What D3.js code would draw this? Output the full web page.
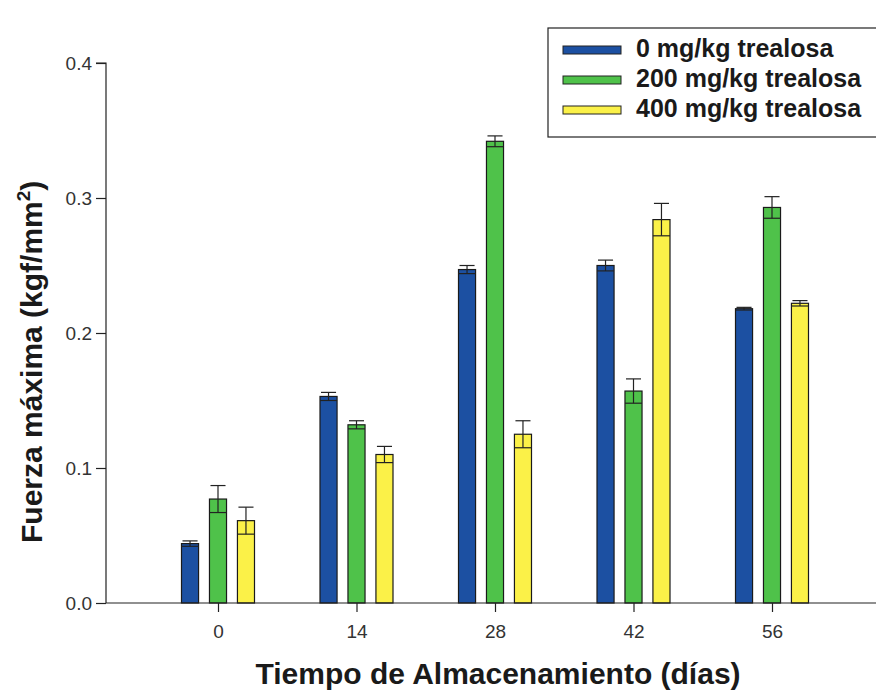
<!DOCTYPE html>
<html>
<head>
<meta charset="utf-8">
<script src="https://cdn.jsdelivr.net/npm/d3@7"></script>
<style>
  body { margin: 0; background: #fff; }
  svg text { font-family: "Liberation Sans", Arial, sans-serif; }
</style>
</head>
<body>
<div id="chart"></div>
<script>
// Data
var days = ["0", "14", "28", "42", "56"];
var seriesNames = ["0 mg/kg trealosa", "200 mg/kg trealosa", "400 mg/kg trealosa"];
var seriesColors = ["#1c50a2", "#4fc24a", "#fbf148"];
var mean0 = [0.044, 0.153, 0.247, 0.250, 0.218];
var err0 = [0.002, 0.003, 0.003, 0.004, 0.001];
var mean200 = [0.077, 0.132, 0.342, 0.157, 0.293];
var err200 = [0.010, 0.003, 0.004, 0.009, 0.008];
var mean400 = [0.061, 0.110, 0.125, 0.284, 0.222];
var err400 = [0.010, 0.006, 0.010, 0.012, 0.002];
var yTicks = [0, 0.1, 0.2, 0.3, 0.4];

var means = [mean0, mean200, mean400];
var errs = [err0, err200, err400];

// Dimensions
var svgWidth = 876;
var svgHeight = 700;
var m = { top: 63, right: 0, bottom: 97, left: 106 };
var cW = svgWidth - m.left - m.right;
var cH = svgHeight - m.top - m.bottom;

var svg = d3.select("#chart").append("svg")
  .attr("width", svgWidth)
  .attr("height", svgHeight);

var g = svg.append("g")
  .attr("transform", `translate(${m.left}, ${m.top})`);

// Scales
var xScale = d3.scalePoint()
  .domain(days)
  .range([112, 666]);

var sub = d3.scaleBand()
  .domain([0, 1, 2])
  .range([-36.5, 36.5])
  .paddingInner(0.39);

var yScale = d3.scaleLinear()
  .domain([0, 0.4])
  .range([cH, 0]);

// Bars
var rows = [];
days.forEach((d, i) => {
  for (var s = 0; s < 3; s++) {
    rows.push({ day: d, s: s, v: means[s][i], e: errs[s][i] });
  }
});

var bw = sub.bandwidth();

g.selectAll("rect.bar")
  .data(rows).enter()
  .append("rect")
  .attr("class", "bar")
  .attr("x", d => xScale(d.day) + sub(d.s))
  .attr("y", d => yScale(d.v))
  .attr("width", bw)
  .attr("height", d => yScale(0) - yScale(d.v))
  .attr("fill", d => seriesColors[d.s])
  .attr("stroke", "#1a1a1a")
  .attr("stroke-width", 1.2);

// Error bars
var eb = g.selectAll("g.err")
  .data(rows).enter()
  .append("g")
  .attr("class", "err")
  .attr("stroke", "#222")
  .attr("stroke-width", 1.2);

eb.append("line")
  .attr("x1", d => xScale(d.day) + sub(d.s) + bw / 2)
  .attr("x2", d => xScale(d.day) + sub(d.s) + bw / 2)
  .attr("y1", d => yScale(d.v - d.e))
  .attr("y2", d => yScale(d.v + d.e));

eb.append("line")
  .attr("x1", d => xScale(d.day) + sub(d.s) + 1)
  .attr("x2", d => xScale(d.day) + sub(d.s) + bw - 1)
  .attr("y1", d => yScale(d.v + d.e))
  .attr("y2", d => yScale(d.v + d.e));

eb.append("line")
  .attr("x1", d => xScale(d.day) + sub(d.s))
  .attr("x2", d => xScale(d.day) + sub(d.s) + bw)
  .attr("y1", d => yScale(d.v - d.e))
  .attr("y2", d => yScale(d.v - d.e));

// Axes
var leftAxis = d3.axisLeft(yScale)
  .tickValues(yTicks)
  .tickFormat(d3.format(".1f"))
  .tickSize(10)
  .tickPadding(4);

var bottomAxis = d3.axisBottom(xScale)
  .tickSize(9)
  .tickPadding(13);

var yAx = g.append("g").call(leftAxis);
var xAx = g.append("g")
  .attr("transform", `translate(0, ${cH})`)
  .call(bottomAxis);

xAx.select(".domain").attr("d", `M0,0H${cW}`);
yAx.select(".domain").attr("d", `M-10,0H0V${cH}`);

[xAx, yAx].forEach(a => {
  a.selectAll("path, line").attr("stroke", "#222").attr("stroke-width", 1.2);
  a.selectAll("text").attr("font-size", 19).attr("fill", "#333");
});

// Axis titles
svg.append("text")
  .attr("x", 498)
  .attr("y", 684)
  .attr("text-anchor", "middle")
  .attr("font-size", 30)
  .attr("font-weight", "bold")
  .attr("fill", "#1a1a1a")
  .text("Tiempo de Almacenamiento (días)");

var yt = svg.append("text")
  .attr("transform", "translate(42, 543) rotate(-90)")
  .attr("text-anchor", "start")
  .attr("font-size", 30)
  .attr("font-weight", "bold")
  .attr("fill", "#1a1a1a");
yt.append("tspan").text("Fuerza máxima (kgf/mm");
yt.append("tspan").attr("font-size", 19).attr("dy", -12).text("2");
yt.append("tspan").attr("dy", 12).text(")");

// Legend
var lg = svg.append("g").attr("transform", "translate(548, 28)");
lg.append("rect")
  .attr("width", 340)
  .attr("height", 109)
  .attr("fill", "#fff")
  .attr("stroke", "#222")
  .attr("stroke-width", 1.2);

var li = lg.selectAll("g.item")
  .data(seriesNames).enter()
  .append("g")
  .attr("class", "item")
  .attr("transform", (d, i) => `translate(15, ${18 + i * 30})`);

li.append("rect")
  .attr("width", 58)
  .attr("height", 8)
  .attr("fill", (d, i) => seriesColors[i])
  .attr("stroke", "#222")
  .attr("stroke-width", 1);

li.append("text")
  .attr("x", 73)
  .attr("y", 11)
  .attr("font-size", 25)
  .attr("font-weight", "bold")
  .attr("fill", "#1a1a1a")
  .text(d => d);
</script>
</body>
</html>
